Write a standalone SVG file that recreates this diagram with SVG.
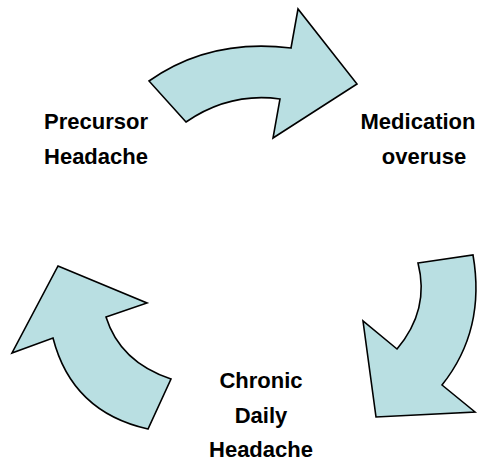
<svg xmlns="http://www.w3.org/2000/svg" width="488" height="464" viewBox="0 0 488 464">
<style>
.arrow{fill:#B9DFE2;stroke:#000;stroke-width:1.6;stroke-linejoin:miter}
.lbl{font-family:"Liberation Sans",Arial,sans-serif;font-weight:bold;font-size:22px;fill:#000;text-anchor:middle}
</style>
<rect width="488" height="464" fill="#fff"/>
<g id="connectors">
<path id="arrow-top" class="arrow" d="M149,81 Q210,38 291,48 L298,9 L357,84 L273,138 L280,99 Q230,92 186,122 Z"/>
<path id="arrow-right" class="arrow" d="M418,263 L473,255 Q486,330 442,385 L475,412 L376,417 L363,321 L397,349 Q430,310 418,263 Z"/>
<path id="arrow-left" class="arrow" d="M58,266 L147,303 L106,317 Q120,362 171,379 L148,429 Q72,412 53,338 L12,353 Z"/>
</g>
<g id="node-precursor">
<text class="lbl" x="96" y="129">Precursor</text>
<text class="lbl" x="96" y="164">Headache</text>
</g>
<g id="node-medication">
<text class="lbl" x="418" y="129">Medication</text>
<text class="lbl" x="424" y="164">overuse</text>
</g>
<g id="node-chronic">
<text class="lbl" x="261" y="388">Chronic</text>
<text class="lbl" x="261" y="423">Daily</text>
<text class="lbl" x="261" y="457">Headache</text>
</g>
</svg>
